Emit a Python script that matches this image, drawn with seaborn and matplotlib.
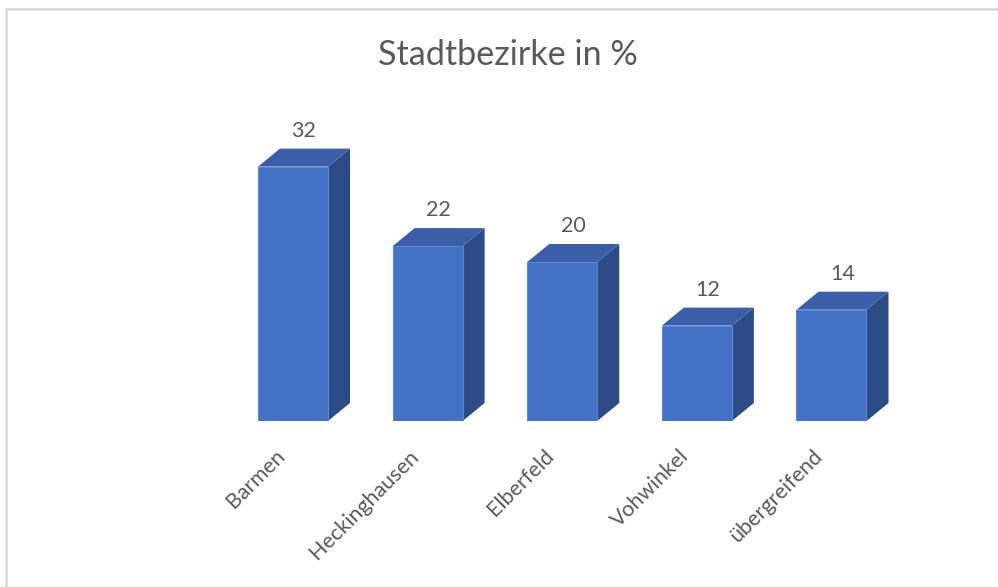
import matplotlib
matplotlib.use("Agg")
import matplotlib.pyplot as plt
import seaborn as sns
import pandas as pd
from matplotlib.patches import Polygon, Rectangle

categories = ["Barmen", "Heckinghausen", "Elberfeld", "Vohwinkel", "übergreifend"]
values = [32, 22, 20, 12, 14]
title = "Stadtbezirke in %"

front_color = "#4472C4"
top_color = "#3A5FA8"
side_color = "#2D4B86"
text_color = "#595959"

sns.set_theme(style="white")
plt.rcParams["font.family"] = ["Lato", "DejaVu Sans"]

W, H, DPI = 998, 587, 100
fig = plt.figure(figsize=(W / DPI, H / DPI), dpi=DPI)

# axes placement (pixels)
ax_left_px, ax_right_px = 225.7, 898.8
base_px = 421
ymax = 35
px_per_unit = 7.95
ax = fig.add_axes([ax_left_px / W, (H - base_px) / H,
                   (ax_right_px - ax_left_px) / W, ymax * px_per_unit / H])

df = pd.DataFrame({"Bezirk": categories, "Wert": values})
sns.barplot(data=df, x="Bezirk", y="Wert", color=front_color, saturation=1,
            width=0.52, ax=ax, edgecolor="#5A88D6", linewidth=0.8, zorder=3)

ax.set_xlim(-0.5, len(categories) - 0.5)
ax.set_ylim(0, ymax)
ax.axis("off")

# depth offsets in data units
x_per_px = len(categories) / (ax_right_px - ax_left_px)
dx = 22 * x_per_px
dy = 18 / px_per_unit

for p in ax.patches:
    x0 = p.get_x()
    w = p.get_width()
    h = p.get_height()
    x1 = x0 + w
    side = Polygon([(x1, 0), (x1 + dx, dy), (x1 + dx, h + dy), (x1, h)],
                   closed=True, facecolor=side_color, edgecolor="none", zorder=2)
    top = Polygon([(x0, h), (x1, h), (x1 + dx, h + dy), (x0 + dx, h + dy)],
                  closed=True, facecolor=top_color, edgecolor="none", zorder=2)
    ax.add_patch(side)
    ax.add_patch(top)
    ax.annotate(f"{h:g}", xy=(x0 + w / 2 + dx / 2, h + dy), xytext=(0, 8.6),
                textcoords="offset points", ha="center", va="baseline",
                fontsize=15.5, color=text_color, clip_on=False)

# category labels
trans = ax.get_xaxis_transform()
for i, name in enumerate(categories):
    ax.annotate(name, xy=(i, 0), xycoords=trans, xytext=(-13.5, -18),
                textcoords="offset points", rotation=45, ha="right", va="top",
                rotation_mode="anchor", fontsize=15.5, color=text_color,
                annotation_clip=False)

fig.text(508 / W, 1 - 65 / H, title, ha="center", va="baseline",
         fontsize=24.6, color=text_color)

fig.patches.append(Rectangle((6 / W, -0.05), 1.1, 1 - 9 / H + 0.05,
                             transform=fig.transFigure, fill=False,
                             edgecolor="#D9D9D9", linewidth=1.8))

fig.savefig("out.png", dpi=DPI)
